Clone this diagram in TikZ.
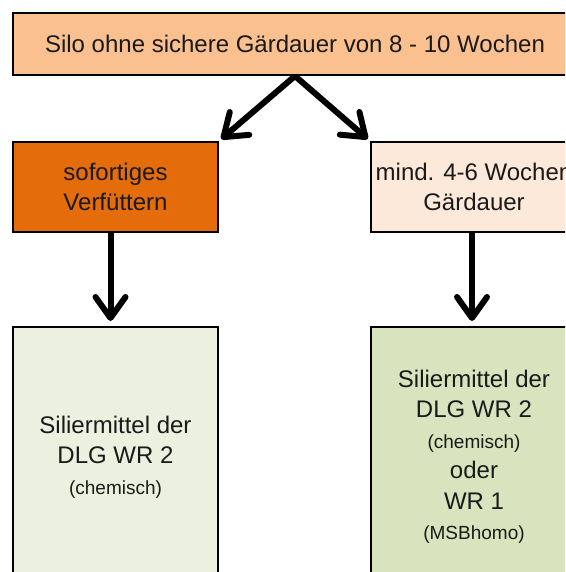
\documentclass[tikz,border=0pt]{standalone}
\usepackage{fontspec}
\setmainfont{Liberation Sans}
\usetikzlibrary{arrows.meta,calc}
\definecolor{topfill}{HTML}{FAC090}
\definecolor{darkor}{HTML}{E46C0A}
\definecolor{lightor}{HTML}{FDE9D9}
\definecolor{lightgr}{HTML}{EBF1DE}
\definecolor{midgr}{HTML}{D7E4BD}
\definecolor{txt}{HTML}{1A1A1A}
\tikzset{
  box/.style={draw=black, line width=2pt, rectangle, inner sep=0pt, align=center,
    text=txt, font=\fontsize{24}{30.5}\selectfont},
  arr/.style={line width=6pt, -{Straight Barb[length=21pt,width=30pt,round]}},
}
\newcommand{\smalltxt}[1]{{\fontsize{19}{30.5}\selectfont #1}}
\begin{document}
\begin{tikzpicture}[x=1pt,y=-1pt]
\useasboundingbox (0,0) rectangle (565,572);
\clip (0,0) rectangle (565,572);
\node[box, fill=topfill, minimum width=564pt, minimum height=62pt] (top) at (295,44)
  {Silo ohne sichere Gärdauer von 8 - 10 Wochen};
\node[box, fill=darkor, minimum width=205pt, minimum height=90pt] (a) at (115.5,187)
  {sofortiges\\Verfüttern};
\node[box, fill=lightor, minimum width=206pt, minimum height=90pt] (b) at (474,187)
  {mind. 4-6 Wochen\\Gärdauer};
\node[box, fill=lightgr, minimum width=205pt, minimum height=260pt] (c) at (115.5,457)
  {Siliermittel der\\DLG WR 2\\\smalltxt{(chemisch)}};
\node[box, fill=midgr, minimum width=206pt, minimum height=260pt] (d) at (474,457)
  {Siliermittel der\\DLG WR 2\\\smalltxt{(chemisch)}\\oder\\WR 1\\\smalltxt{(MSBhomo)}};
\draw[arr, shorten >=3pt] (top.south) -- (a.north east);
\draw[arr, shorten >=3pt] (top.south) -- (b.north west);
\draw[arr, shorten >=5pt] ($(a.south)+(-5,0)$) -- ($(c.north)+(-5,0)$);
\draw[arr, shorten >=5pt] ($(b.south)+(-2,0)$) -- ($(d.north)+(-2,0)$);
\end{tikzpicture}
\end{document}
